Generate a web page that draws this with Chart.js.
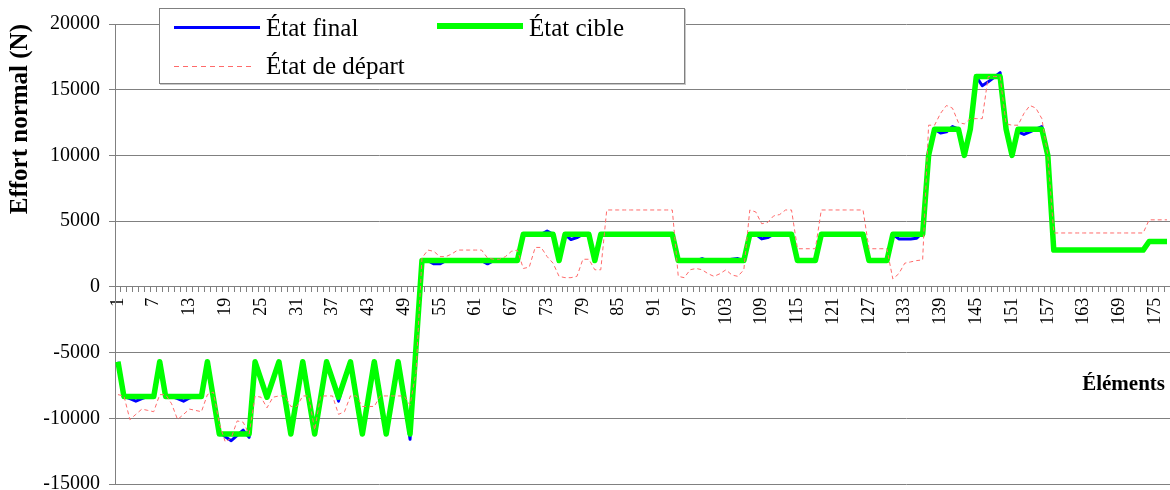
<!DOCTYPE html>
<html lang="fr">
<head>
<meta charset="utf-8">
<title>Effort normal par élément</title>
<script src="https://cdn.jsdelivr.net/npm/chart.js@4.4.1/dist/chart.umd.min.js"></script>
<style>
  html, body { margin: 0; padding: 0; background: #fff; overflow: hidden; }
  #wrap { position: relative; width: 1170px; height: 490px; }
  #chart { display: block; }
  .legend {
    position: absolute; left: 159px; top: 8px; width: 526px; height: 76px;
    box-sizing: border-box; border: 1px solid #808080; background: #fff;
    box-shadow: 1px 1px 0 #c8c8c8;
    font-family: "Liberation Serif", "Times New Roman", serif; font-size: 25px; color: #000;
  }
  .legend .sample, .legend .name { position: absolute; }
  .legend .name { line-height: 25px; white-space: nowrap; }
  .axis-name {
    position: absolute; right: 5px; top: 373px;
    font-family: "Liberation Serif", "Times New Roman", serif; font-weight: bold;
    font-size: 21px; line-height: 21px; color: #000;
  }
</style>
</head>
<body>
<div id="wrap">
  <canvas id="chart" width="1170" height="490"></canvas>
  <div class="legend" id="legend"></div>
  <div class="axis-name">Éléments</div>
</div>
<script>
// element numbers along the bar
const ELEMENTS = Array.from({ length: 177 }, (_, i) => String(i + 1));
const TICK_LABELS = ["1", "7", "13", "19", "25", "31", "37", "43", "49", "55", "61", "67", "73", "79", "85",
  "91", "97", "103", "109", "115", "121", "127", "133", "139", "145", "151", "157", "163", "169", "175"];

const SERIES_NAMES = ["État final", "État cible", "État de départ"];

// normal force per element (N)
const FINAL_STATE = [
  -5700, -8350, -8500, -8700, -8500, -8350, -8350, -5700, -8350, -8350,
  -8500, -8700, -8450, -8350, -8350, -5700, -8450, -11050, -11400, -11700,
  -11300, -10900, -11450, -5700, -7050, -8450, -7050, -5700, -8450, -10850,
  -8450, -5700, -8450, -11200, -8450, -5700, -7100, -8700, -7100, -5700,
  -8450, -11000, -8450, -5700, -8450, -11050, -8450, -5700, -8500, -11600,
  -4700, 2000, 2000, 1750, 1750, 2000, 2000, 2000, 2000, 2000,
  2000, 2000, 1750, 2000, 2000, 2000, 2000, 2000, 4000, 4000,
  4000, 4000, 4250, 4000, 2000, 4000, 3600, 3750, 4000, 4000,
  2000, 4000, 4000, 4000, 4000, 4000, 4000, 4000, 4000, 4000,
  4000, 4000, 4000, 4000, 2000, 2000, 2000, 2000, 2150, 2000,
  2000, 2000, 2000, 2100, 2150, 2000, 4000, 4000, 3650, 3750,
  4000, 4000, 4000, 4000, 2000, 2000, 2000, 2000, 4000, 4000,
  4000, 4000, 4000, 4000, 4000, 4000, 2000, 2000, 2000, 2000,
  4000, 3650, 3650, 3650, 3700, 4150, 10000, 12000, 11700, 11800,
  12200, 12000, 10000, 12000, 16000, 15300, 15600, 15950, 16300, 12000,
  10000, 11800, 11600, 11800, 12000, 12200, 10000, 2800, 2800, 2800,
  2800, 2800, 2800, 2800, 2800, 2800, 2800, 2800, 2800, 2800,
  2800, 2800, 2800, 3450, 3450, 3450, 3450
];

const TARGET_STATE = [
  -5700, -8350, -8350, -8350, -8350, -8350, -8350, -5700, -8350, -8350,
  -8350, -8350, -8350, -8350, -8350, -5700, -8450, -11200, -11200, -11200,
  -11200, -11200, -11200, -5700, -7050, -8400, -7050, -5700, -8450, -11200,
  -8450, -5700, -8450, -11200, -8450, -5700, -7050, -8400, -7050, -5700,
  -8450, -11200, -8450, -5700, -8450, -11200, -8450, -5700, -8450, -11200,
  -4600, 2000, 2000, 2000, 2000, 2000, 2000, 2000, 2000, 2000,
  2000, 2000, 2000, 2000, 2000, 2000, 2000, 2000, 4000, 4000,
  4000, 4000, 4000, 4000, 2000, 4000, 4000, 4000, 4000, 4000,
  2000, 4000, 4000, 4000, 4000, 4000, 4000, 4000, 4000, 4000,
  4000, 4000, 4000, 4000, 2000, 2000, 2000, 2000, 2000, 2000,
  2000, 2000, 2000, 2000, 2000, 2000, 4000, 4000, 4000, 4000,
  4000, 4000, 4000, 4000, 2000, 2000, 2000, 2000, 4000, 4000,
  4000, 4000, 4000, 4000, 4000, 4000, 2000, 2000, 2000, 2000,
  4000, 4000, 4000, 4000, 4000, 4000, 10000, 12000, 12000, 12000,
  12000, 12000, 10000, 12000, 16000, 16000, 16000, 16000, 16000, 12000,
  10000, 12000, 12000, 12000, 12000, 12000, 10000, 2800, 2800, 2800,
  2800, 2800, 2800, 2800, 2800, 2800, 2800, 2800, 2800, 2800,
  2800, 2800, 2800, 3450, 3450, 3450, 3450
];

const START_STATE = [
  -8200, -8300, -10100, -9700, -9300, -9400, -9500, -8200, -8200, -8900,
  -10100, -9700, -9300, -9400, -9500, -8200, -8000, -10400, -11800, -11500,
  -10200, -10300, -11200, -8300, -8400, -9200, -8400, -8300, -8300, -9100,
  -9100, -8300, -8300, -10900, -8300, -8300, -8300, -9700, -9500, -8300,
  -8300, -9100, -9100, -9100, -8300, -8300, -8300, -8300, -8300, -9000,
  -6500, 2200, 2800, 2700, 2300, 2300, 2500, 2800, 2800, 2800,
  2800, 2800, 2200, 2100, 2100, 2300, 2700, 2800, 1400, 1500,
  3000, 3000, 2300, 1800, 800, 700, 700, 800, 2100, 2100,
  1300, 1300, 5850, 5850, 5850, 5850, 5850, 5850, 5850, 5850,
  5850, 5850, 5850, 5850, 800, 700, 1300, 1400, 1300, 1000,
  800, 1000, 1300, 900, 800, 1300, 5850, 5700, 4800, 4900,
  5400, 5500, 5850, 5850, 2900, 2900, 2900, 2900, 5850, 5850,
  5850, 5850, 5850, 5850, 5850, 5850, 2900, 2900, 2900, 2900,
  600, 1000, 1800, 1900, 2000, 2050, 12300, 12300, 13200, 13800,
  13600, 12500, 12400, 12800, 12800, 12800, 16000, 16000, 16000, 12400,
  12300, 12300, 13200, 13800, 13600, 12800, 10000, 4100, 4100, 4100,
  4100, 4100, 4100, 4100, 4100, 4100, 4100, 4100, 4100, 4100,
  4100, 4100, 4100, 5100, 5100, 5100, 5100
];

// legend slot geometry inside the box: sample line, then its name
const LEGEND_SLOTS = [
  { x: 14, y: 18, len: 86, textX: 106, textY: 6 },
  { x: 277, y: 17, len: 86, textX: 369, textY: 6 },
  { x: 14, y: 57, len: 80, textX: 106, textY: 44 },
];

Chart.defaults.font.family = "'Liberation Serif', 'Times New Roman', serif";
Chart.defaults.color = "#000";

const GRID = "#808080";

const chart = new Chart(document.getElementById("chart"), {
  type: "line",
  data: {
    labels: ELEMENTS,
    datasets: [
      {
        label: SERIES_NAMES[0], data: FINAL_STATE,
        borderColor: "#0000ff", borderWidth: 3, order: 3,
      },
      {
        label: SERIES_NAMES[1], data: TARGET_STATE,
        borderColor: "#00ff00", borderWidth: 5.5, order: 2,
      },
      {
        label: SERIES_NAMES[2], data: START_STATE,
        borderColor: "#ff6a6a", borderWidth: 1, borderDash: [4, 3], order: 1,
        borderJoinStyle: "miter",
      },
    ],
  },
  options: {
    responsive: false,
    animation: false,
    layout: { padding: { top: 24, right: 0, bottom: 6, left: 0 } },
    elements: {
      point: { radius: 0, hoverRadius: 0 },
      line: { tension: 0, borderJoinStyle: "round", borderCapStyle: "butt", fill: false },
    },
    scales: {
      x: {
        type: "category",
        position: { y: 0 },
        offset: true,
        grid: { drawOnChartArea: false, drawTicks: true, tickLength: 5, offset: true, color: GRID },
        border: { display: true, color: GRID, width: 1 },
        ticks: {
          autoSkip: false, minRotation: 90, maxRotation: 90, padding: 6,
          font: { size: 18 },
          callback: (v, i) => (TICK_LABELS.includes(ELEMENTS[i]) ? ELEMENTS[i] : ""),
        },
        afterFit: (s) => { s.height = 0; s.paddingLeft = 0; s.paddingRight = 0; },
      },
      y: {
        min: -15000, max: 20000,
        grid: { color: GRID, tickLength: 6 },
        border: { color: GRID },
        ticks: { stepSize: 5000, padding: 9, font: { size: 20 }, callback: (v) => String(v) },
        title: {
          display: true, text: "Effort normal (N)", align: "end",
          font: { size: 25, weight: "bold" }, padding: { top: 6, bottom: 0 },
        },
        afterFit: (s) => { s.width = 115; s.paddingTop = 0; s.paddingBottom = 0; },
      },
    },
    plugins: { legend: { display: false }, tooltip: { enabled: false } },
  },
});

// legend box built from the datasets
const legendBox = document.getElementById("legend");
chart.data.datasets.forEach((ds, i) => {
  const slot = LEGEND_SLOTS[i];
  const sample = document.createElement("div");
  sample.className = "sample";
  const w = ds.borderWidth;
  sample.style.left = slot.x + "px";
  sample.style.width = slot.len + "px";
  sample.style.top = (slot.y - w / 2) + "px";
  sample.style.height = w + "px";
  sample.style.background = ds.borderDash
    ? `repeating-linear-gradient(90deg, ${ds.borderColor} 0 5px, transparent 5px 9px)`
    : ds.borderColor;
  const name = document.createElement("div");
  name.className = "name";
  name.style.left = slot.textX + "px";
  name.style.top = slot.textY + "px";
  name.textContent = ds.label;
  legendBox.append(sample, name);
});
</script>
</body>
</html>
